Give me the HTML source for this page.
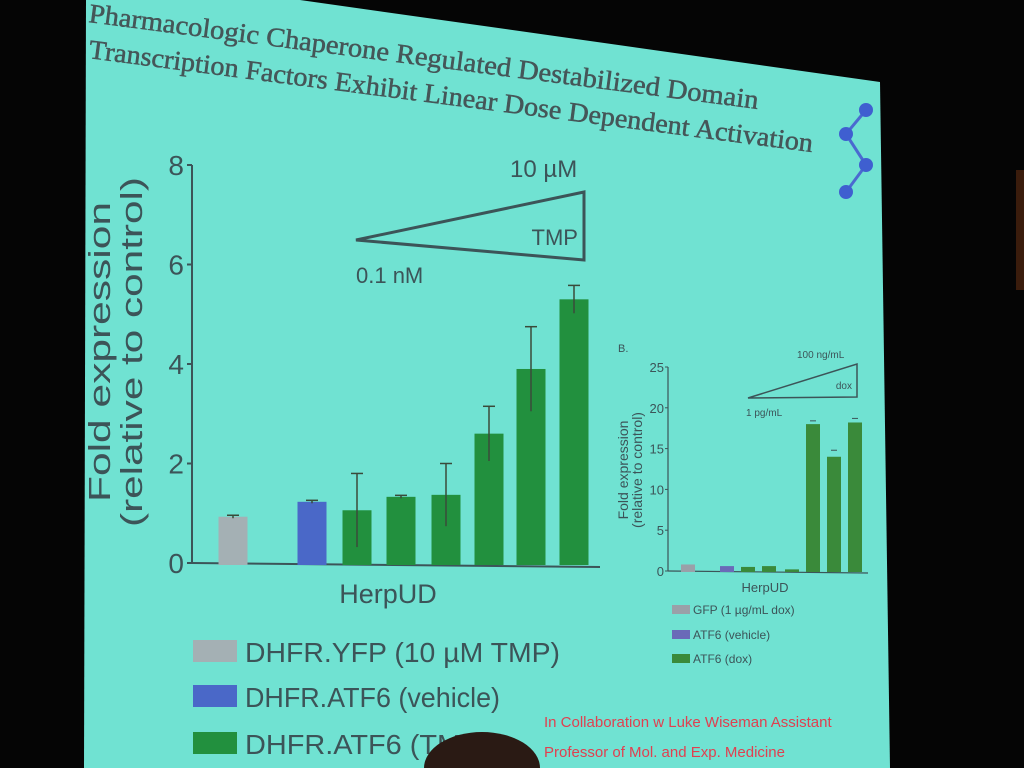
<!DOCTYPE html>
<html><head><meta charset="utf-8"><style>
html,body{margin:0;padding:0;background:#000;width:1024px;height:768px;overflow:hidden}
svg{display:block}
text{font-family:"Liberation Sans",sans-serif}
.serif{font-family:"Liberation Serif",serif}
</style></head><body>
<svg id="c" width="1024" height="768" viewBox="0 0 1024 768">
<rect x="0" y="0" width="1024" height="768" fill="#050505"/>
<polygon points="86,0 300,0 880,82 890,768 84,768" fill="#70e2d2"/>
<rect x="1016" y="170" width="8" height="120" fill="#3a1c0c"/>
<g class="serif" fill="#455658" font-size="27">
<text class="serif" x="88" y="22" transform="rotate(7.4 88 22)" textLength="675" lengthAdjust="spacingAndGlyphs" stroke="#455658" stroke-width="0.5">Pharmacologic Chaperone Regulated Destabilized Domain</text>
<text class="serif" x="88" y="58" transform="rotate(7.4 88 58)" textLength="730" lengthAdjust="spacingAndGlyphs" stroke="#455658" stroke-width="0.5">Transcription Factors Exhibit Linear Dose Dependent Activation</text>
</g>
<g stroke="#4a6ad0" stroke-width="3">
<line x1="866" y1="110" x2="846" y2="134"/><line x1="846" y1="134" x2="866" y2="165"/><line x1="866" y1="165" x2="846" y2="192"/>
<circle cx="866" cy="110" r="7" fill="#3f5fd0" stroke="none"/><circle cx="846" cy="134" r="7" fill="#3f5fd0" stroke="none"/>
<circle cx="866" cy="165" r="7" fill="#3f5fd0" stroke="none"/><circle cx="846" cy="192" r="7" fill="#3f5fd0" stroke="none"/>
</g>
<g id="main"></g>
<g id="small"></g>
<g fill="#e04050" font-size="15">
<text x="544" y="727">In Collaboration w Luke Wiseman Assistant</text>
<text x="544" y="757">Professor of Mol. and Exp. Medicine</text>
</g>
<ellipse cx="482" cy="768" rx="58" ry="36" fill="#2a1a14"/>
</svg>
<script>
const NS='http://www.w3.org/2000/svg';
function mk(p,t,a,txt){const e=document.createElementNS(NS,t);for(const k in a)e.setAttribute(k,a[k]);if(txt!==undefined)e.textContent=txt;p.appendChild(e);return e;}
// main chart data
const mainCats=['DHFR.YFP','DHFR.ATF6 vehicle','TMP1','TMP2','TMP3','TMP4','TMP5','TMP6'];
const mainVals=[0.93,1.23,1.06,1.33,1.37,2.6,3.9,5.3];
const mainErr=[0.03,0.03,0.74,0.03,0.63,0.55,0.85,0.28];
const mainSeries=[0,1,2,2,2,2,2,2];
const mainTicks=[0,2,4,6,8];
const smallVals=[0.8,0.6,0.5,0.6,0.2,18,14,18.2];
const smallErr=[0,0,0,0,0,0.4,0.8,0.5];
const smallSeries=[0,1,2,2,2,2,2,2];
const smallTicks=[0,5,10,15,20,25];

const mainColors=['#a4b0b4','#4a68c8','#22903e'];
const smallColors=['#9aa0a8','#6a6ab8','#3a8a3a'];
const ink='#3c5458';
const m=document.getElementById('main');
const mx0=192,my0=563,myTop=165,mMax=8;
const my=v=>my0-(v/mMax)*(my0-myTop);
const mSlot=[233,312,357,401,446,489,531,574];
mk(m,'line',{x1:mx0,y1:myTop,x2:mx0,y2:my0,stroke:ink,'stroke-width':2});
mk(m,'line',{x1:mx0,y1:my0,x2:600,y2:my0+4,stroke:ink,'stroke-width':2});
mainTicks.forEach(t=>{
  mk(m,'line',{x1:mx0-5,y1:my(t),x2:mx0,y2:my(t),stroke:ink,'stroke-width':2});
  const tx=mk(m,'text',{x:mx0-8,y:my(t)+10,'text-anchor':'end','font-size':28,fill:ink},String(t));
  
  
});
mainVals.forEach((v,i)=>{
  const cx=mSlot[i],w=29;
  const r=mk(m,'rect',{x:cx-w/2,y:my(v),width:w,height:my0+2-my(v),fill:mainColors[mainSeries[i]]});
  
  
  const e=mainErr[i];
  mk(m,'line',{x1:cx,y1:my(v+e),x2:cx,y2:my(v-Math.min(e,v)),stroke:'#3a4a3a','stroke-width':1.5});
  mk(m,'line',{x1:cx-6,y1:my(v+e),x2:cx+6,y2:my(v+e),stroke:'#3a4a3a','stroke-width':1.5});
});
let t;
t=mk(m,'text',{x:0,y:0,transform:'translate(110 352) rotate(-90)','text-anchor':'middle','font-size':31,fill:ink,textLength:300,lengthAdjust:'spacingAndGlyphs'},'Fold expression');

t=mk(m,'text',{x:0,y:0,transform:'translate(142 352) rotate(-90)','text-anchor':'middle','font-size':31,fill:ink,textLength:350,lengthAdjust:'spacingAndGlyphs'},'(relative to control)');

t=mk(m,'text',{x:388,y:603,'text-anchor':'middle','font-size':27,fill:ink},'HerpUD');

mk(m,'polygon',{points:'356,240 584,192 584,260',fill:'none',stroke:ink,'stroke-width':3});
mk(m,'text',{x:578,y:245,'text-anchor':'end','font-size':22,fill:ink},'TMP');
mk(m,'text',{x:510,y:177,'font-size':24,fill:ink},'10 µM');
mk(m,'text',{x:356,y:283,'font-size':22,fill:ink},'0.1 nM');
const leg=[['DHFR.YFP (10 µM TMP)',0,662,315],['DHFR.ATF6 (vehicle)',1,707,255],['DHFR.ATF6 (TMP)',2,754,245]];
leg.forEach(l=>{
  const g=mk(m,'g',{});
  
  
  mk(g,'rect',{x:193,y:l[2]-22,width:44,height:22,fill:mainColors[l[1]]});
  mk(g,'text',{x:245,y:l[2],'font-size':28,fill:ink,textLength:l[3],lengthAdjust:'spacingAndGlyphs'},l[0]);
});
const s=document.getElementById('small');
const sx0=668,sy0=571,syTop=367,sMax=25;
const sy=v=>sy0-(v/sMax)*(sy0-syTop);
const sSlot=[688,727,748,769,792,813,834,855];
mk(s,'line',{x1:sx0,y1:syTop,x2:sx0,y2:sy0,stroke:ink,'stroke-width':1.2});
mk(s,'line',{x1:sx0,y1:sy0,x2:868,y2:sy0+2,stroke:ink,'stroke-width':1.2});
smallTicks.forEach(v=>{
  mk(s,'line',{x1:sx0-3,y1:sy(v),x2:sx0,y2:sy(v),stroke:ink,'stroke-width':1});
  const tx=mk(s,'text',{x:sx0-4,y:sy(v)+5,'text-anchor':'end','font-size':13,fill:ink},String(v));
  
  
});
smallVals.forEach((v,i)=>{
  const cx=sSlot[i],w=14;
  const r=mk(s,'rect',{x:cx-w/2,y:sy(v),width:w,height:sy0+1-sy(v),fill:smallColors[smallSeries[i]]});
  
  
  if(smallErr[i]>0){mk(s,'line',{x1:cx-3,y1:sy(v+smallErr[i]),x2:cx+3,y2:sy(v+smallErr[i]),stroke:ink,'stroke-width':1});}
});
mk(s,'text',{x:0,y:0,transform:'translate(628 470) rotate(-90)','text-anchor':'middle','font-size':14,fill:ink},'Fold expression');
mk(s,'text',{x:0,y:0,transform:'translate(642 470) rotate(-90)','text-anchor':'middle','font-size':14,fill:ink},'(relative to control)');
mk(s,'text',{x:765,y:592,'text-anchor':'middle','font-size':13,fill:ink},'HerpUD');
mk(s,'text',{x:618,y:352,'font-size':11,fill:ink},'B.');
mk(s,'polygon',{points:'748,398 857,364 857,397',fill:'none',stroke:ink,'stroke-width':1.5});
mk(s,'text',{x:852,y:389,'text-anchor':'end','font-size':10,fill:ink},'dox');
mk(s,'text',{x:797,y:358,'font-size':10,fill:ink},'100 ng/mL');
mk(s,'text',{x:746,y:416,'font-size':10,fill:ink},'1 pg/mL');
[['GFP (1 µg/mL dox)',0,614],['ATF6 (vehicle)',1,639],['ATF6 (dox)',2,663]].forEach(l=>{
  const g=mk(s,'g',{});
  
  
  mk(g,'rect',{x:672,y:l[2]-9,width:18,height:9,fill:smallColors[l[1]]});
  mk(g,'text',{x:693,y:l[2],'font-size':12,fill:ink},l[0]);
});
</script>
</body></html>
